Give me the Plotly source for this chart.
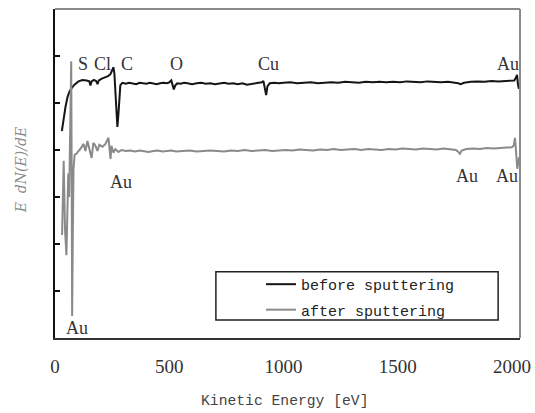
import plotly.graph_objects as go

# ---- data ----
energy_before = [30, 34, 38, 46, 55, 63, 72, 85, 103, 120, 138, 150, 155, 160, 170, 180, 186, 192,
                 205, 220, 232, 242, 250, 256, 260, 264, 269, 273, 277, 282, 286, 295, 310, 325,
                 340, 355, 370, 385, 400, 415, 430, 445, 460, 475, 490, 500, 509, 515, 520, 526,
                 535, 550, 565, 580, 600, 620, 640, 660, 680, 700, 720, 740, 760, 780, 800, 820,
                 840, 860, 880, 895, 905, 912, 918, 924, 930, 940, 960, 980, 1000, 1030, 1060,
                 1090, 1120, 1150, 1180, 1210, 1240, 1270, 1300, 1330, 1360, 1390, 1420, 1450,
                 1480, 1510, 1540, 1570, 1600, 1630, 1660, 1690, 1720, 1750, 1765, 1775, 1790,
                 1820, 1850, 1880, 1910, 1940, 1970, 1995, 2010, 2018, 2022, 2026, 2030]
signal_before = [4.40, 4.55, 4.68, 4.92, 5.13, 5.24, 5.31, 5.39, 5.46, 5.49, 5.48, 5.46, 5.37, 5.46,
                 5.49, 5.47, 5.40, 5.48, 5.52, 5.54, 5.57, 5.61, 5.68, 5.76, 5.62, 5.26, 4.83, 4.49,
                 4.72, 5.15, 5.38, 5.43, 5.41, 5.43, 5.42, 5.40, 5.43, 5.42, 5.41, 5.43, 5.42, 5.40,
                 5.42, 5.43, 5.42, 5.44, 5.48, 5.38, 5.29, 5.37, 5.42, 5.41, 5.43, 5.42, 5.40, 5.42,
                 5.43, 5.41, 5.42, 5.40, 5.42, 5.43, 5.41, 5.42, 5.40, 5.42, 5.39, 5.41, 5.42, 5.43,
                 5.44, 5.47, 5.33, 5.17, 5.36, 5.42, 5.43, 5.42, 5.43, 5.44, 5.42, 5.43, 5.44, 5.42,
                 5.43, 5.44, 5.43, 5.45, 5.44, 5.43, 5.45, 5.44, 5.45, 5.44, 5.45, 5.44, 5.46, 5.45,
                 5.44, 5.46, 5.45, 5.44, 5.45, 5.44, 5.42, 5.40, 5.43, 5.45, 5.46, 5.45, 5.47, 5.46,
                 5.47, 5.47, 5.48, 5.55, 5.60, 5.40, 5.30]

energy_after = [31, 35, 38, 41, 44, 50, 53, 58, 62, 66, 69, 71, 73, 75, 78, 81, 86, 94, 103, 111,
                125, 133, 142, 151, 160, 168, 177, 186, 194, 208, 221, 234, 238, 243, 247, 256,
                264, 278, 291, 310, 330, 350, 370, 390, 410, 430, 450, 470, 490, 510, 530, 560,
                590, 620, 650, 680, 710, 740, 770, 800, 830, 860, 890, 920, 950, 980, 1010, 1040,
                1070, 1100, 1130, 1160, 1190, 1220, 1250, 1280, 1310, 1340, 1370, 1400, 1430,
                1460, 1490, 1520, 1550, 1580, 1610, 1640, 1670, 1700, 1730, 1755, 1765, 1772,
                1780, 1800, 1830, 1860, 1890, 1920, 1950, 1980, 2000, 2008, 2013, 2018, 2023,
                2028, 2031]
signal_after = [2.19, 2.95, 3.77, 3.00, 2.30, 1.76, 2.60, 3.50, 3.00, 4.30, 5.50, 5.89, 3.50, 0.47,
                2.20, 3.60, 3.90, 3.92, 3.98, 4.02, 4.13, 3.98, 4.19, 4.02, 3.83, 4.15, 4.09, 3.98,
                4.11, 4.07, 4.13, 4.26, 4.09, 3.81, 4.09, 3.94, 4.02, 3.96, 4.00, 3.98, 3.99, 3.97,
                3.99, 3.98, 3.96, 3.98, 3.99, 3.97, 3.98, 3.99, 3.97, 3.98, 3.99, 3.97, 3.98, 3.99,
                3.98, 3.97, 3.99, 3.98, 4.00, 3.98, 3.99, 4.00, 3.98, 3.99, 4.00, 3.99, 4.01, 4.00,
                3.99, 4.01, 4.00, 4.02, 4.00, 4.01, 4.02, 4.00, 4.02, 4.01, 4.00, 4.02, 4.01, 4.03,
                4.02, 4.01, 4.03, 4.02, 4.01, 4.03, 4.02, 4.00, 3.96, 3.92, 3.99, 4.02, 4.03, 4.02,
                4.04, 4.03, 4.04, 4.05, 4.06, 4.10, 4.26, 3.95, 3.60, 3.75, 3.85]

x_ticks = [0, 500, 1000, 1500, 2000]
y_ticks = [1, 2, 3, 4, 5, 6]

# peak labels: (text, energy, signal)
peak_labels = [("S", 123, 5.82), ("Cl", 206, 5.82), ("C", 317, 5.82), ("O", 531, 5.82),
               ("Cu", 933, 5.82), ("Au", 1982, 5.82), ("Au", 291, 3.31), ("Au", 1803, 3.45),
               ("Au", 1978, 3.45), ("Au", 98, 0.22)]

SERIF = "Liberation Serif"
MONO = "Liberation Mono"

fig = go.Figure()
fig.add_trace(go.Scatter(x=energy_before, y=signal_before, mode="lines", name="before sputtering",
                         line=dict(color="#151515", width=2), legendgroup="a"))
fig.add_trace(go.Scatter(x=energy_after, y=signal_after, mode="lines", name="after sputtering",
                         line=dict(color="#8a8a8a", width=2), legendgroup="b"))

annotations = []
for txt, ex, ey in peak_labels:
    annotations.append(dict(x=ex, y=ey, xref="x", yref="y", text=txt, showarrow=False,
                            font=dict(family=SERIF, size=18, color="#333333"),
                            xanchor="center", yanchor="middle"))
annotations.append(dict(x=-0.073, y=0.51, xref="paper", yref="paper", text="E  dN(E)/dE",
                        showarrow=False, textangle=-90,
                        font=dict(family="DejaVu Serif", size=14, color="#8a8a8a", style="italic"),
                        xanchor="center", yanchor="middle"))
annotations.append(dict(x=0.4925, y=-0.191, xref="paper", yref="paper", text="Kinetic Energy [eV]",
                        showarrow=False, font=dict(family=MONO, size=14.7, color="#444444"),
                        xanchor="center", yanchor="middle"))

shapes = [
    dict(type="line", xref="paper", yref="paper", x0=0, x1=1, y0=1, y1=1,
         line=dict(color="#8a8a8a", width=2)),
    dict(type="line", xref="paper", yref="paper", x0=1, x1=1, y0=0, y1=1,
         line=dict(color="#8a8a8a", width=2)),
    dict(type="rect", xref="paper", yref="paper", x0=0.346, x1=0.953, y0=0.0547, y1=0.2015,
         line=dict(color="#222222", width=1.5)),
]

fig.update_layout(
    width=535, height=413,
    margin=dict(l=55, r=15, t=9, b=75, autoexpand=False),
    paper_bgcolor="white", plot_bgcolor="white",
    showlegend=True,
    legend=dict(x=0.443, y=0.213, xanchor="left", yanchor="top",
                bgcolor="rgba(0,0,0,0)", borderwidth=0,
                font=dict(family=MONO, size=15, color="#222222"),
                tracegroupgap=3, traceorder="grouped"),
    annotations=annotations,
    shapes=shapes,
)
fig.update_xaxes(range=[0, 2035], tickvals=x_ticks, ticktext=[str(v) for v in x_ticks],
                 showgrid=False, zeroline=False, showline=True, linecolor="#333333", linewidth=2,
                 ticks="", ticklabelstandoff=10, automargin=False,
                 tickfont=dict(family=SERIF, size=19, color="#333333"))
fig.update_yaxes(range=[0, 7], tickvals=y_ticks, showticklabels=False, showgrid=False,
                 zeroline=False, showline=True, linecolor="#111111", linewidth=2,
                 ticks="inside", ticklen=5, tickwidth=2, tickcolor="#111111", automargin=False)

fig.write_html("out.html")
